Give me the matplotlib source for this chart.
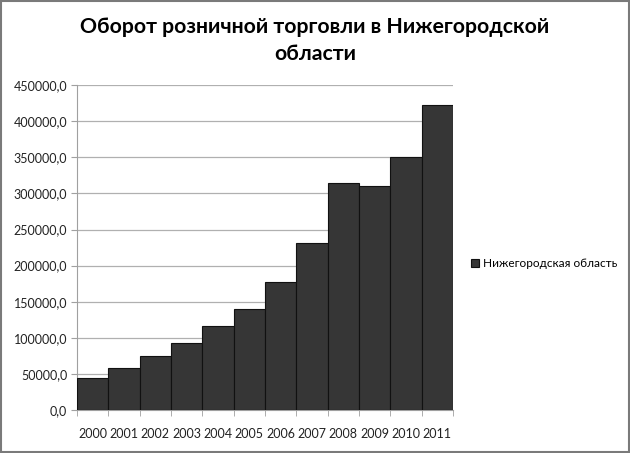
import matplotlib.pyplot as plt
from matplotlib.patches import Rectangle
import numpy as np

plt.rcParams['font.family'] = ['Lato', 'DejaVu Sans']

years = ['2000', '2001', '2002', '2003', '2004', '2005',
         '2006', '2007', '2008', '2009', '2010', '2011']
turnover = [43900, 57700, 75200, 92300, 116300, 139400,
            177600, 231700, 313900, 310600, 350700, 422300]
series_name = 'Нижегородская область'
title = 'Оборот розничной торговли в Нижегородской\nобласти'

fig = plt.figure(figsize=(6.3, 4.53), dpi=100)
ax = fig.add_axes([0.122, 0.095, 0.597, 0.717])

x = np.arange(len(years))
ax.bar(x, turnover, width=1.0, color='#363636', edgecolor='#111111',
       linewidth=0.8, label=series_name, zorder=3)

ax.set_xlim(-0.5, len(years) - 0.5)
ax.set_ylim(0, 450000)
ax.set_yticks(np.arange(0, 450001, 50000))
ax.set_yticklabels([f'{v:.1f}'.replace('.', ',') for v in np.arange(0, 450001, 50000)])
ax.yaxis.grid(True, color='#b0b0b0', linewidth=0.9, zorder=0)

# year labels centred, ticks between bars
ax.set_xticks(x)
ax.set_xticklabels(years)
ax.set_xticks(np.arange(-0.5, len(years)), minor=True)
ax.tick_params(axis='x', which='major', length=0, pad=13)
ax.tick_params(axis='x', which='minor', length=4, color='#a0a0a0')
ax.tick_params(axis='y', length=4, color='#a0a0a0', pad=3)
ax.tick_params(labelsize=9, labelcolor='#222222')

for s in ['top', 'right']:
    ax.spines[s].set_visible(False)
for s in ['left', 'bottom']:
    ax.spines[s].set_color('#a0a0a0')

fig.text(0.5, 0.962, title, ha='center', va='top', fontsize=15.3,
         fontweight='bold', linespacing=1.4)

ax.legend(loc='center left', bbox_to_anchor=(1.02, 0.45), frameon=False,
          fontsize=8.5, handlelength=0.7, handleheight=0.7, handletextpad=0.3)

fig.patches.append(Rectangle((0.002, 0.002), 0.996, 0.996, transform=fig.transFigure,
                             fill=False, edgecolor='#7a7a7a', linewidth=1.5))

fig.savefig('out.png', dpi=100)
